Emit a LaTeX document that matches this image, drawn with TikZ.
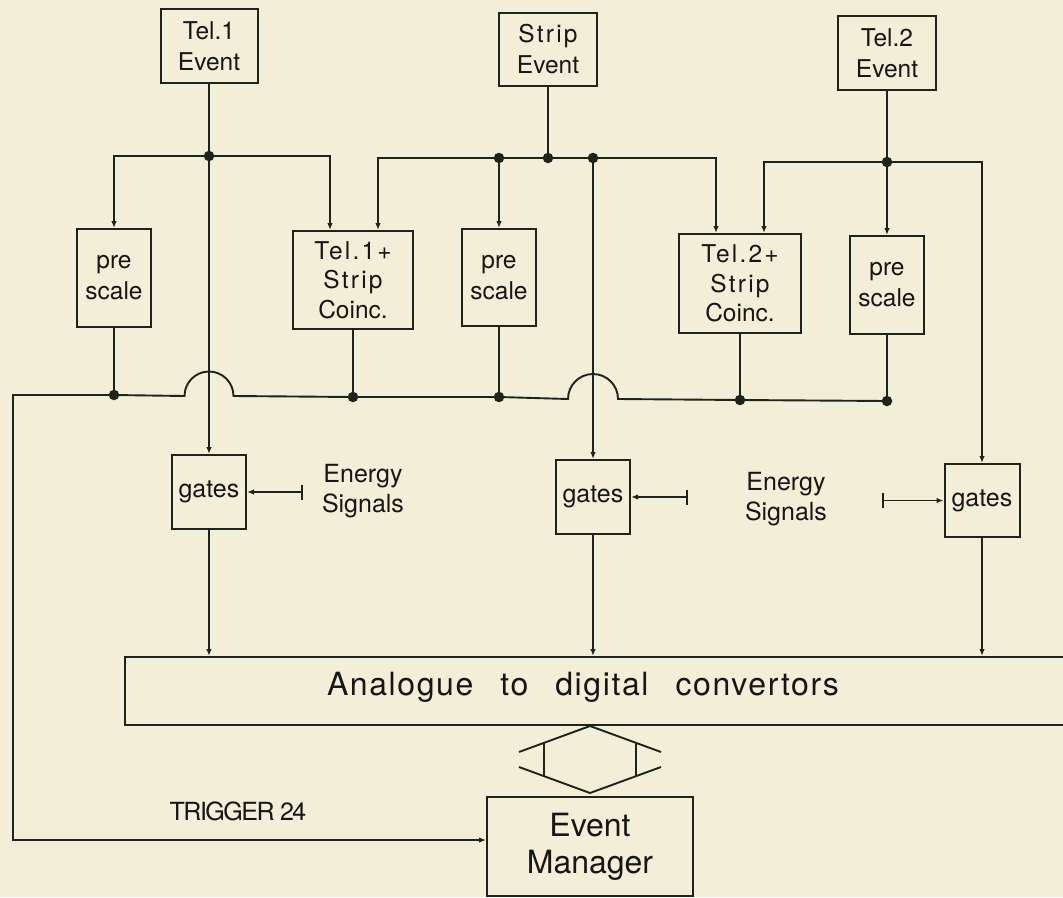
\documentclass[tikz,border=0pt]{standalone}
\usepackage{fontspec}
\setmainfont{TeX Gyre Heros}
\newfontfamily\lspfont[LetterSpace=9]{TeX Gyre Heros}
\newfontfamily\adcfont[LetterSpace=5]{TeX Gyre Heros}
\newfontfamily\trigfont[LetterSpace=-6]{TeX Gyre Heros}
\usetikzlibrary{arrows.meta,calc}
\definecolor{bg}{RGB}{242,238,216}
\definecolor{ink}{RGB}{28,36,28}
\definecolor{txt}{RGB}{22,22,22}
\begin{document}
\begin{tikzpicture}[x=1pt,y=-1pt,
  box/.style={draw=ink,line width=2pt,rectangle,inner sep=0pt,align=center,text=txt,font=\fontsize{24.5}{31}\selectfont},
  arr/.style={draw=ink,line width=1.9pt,-{Latex[length=7pt,width=5.5pt]}},
  wire/.style={draw=ink,line width=1.9pt},
  jdot/.style={circle,fill=ink,inner sep=0pt,minimum size=10.5pt},
  lbl/.style={align=center,text=txt,font=\fontsize{25}{30}\selectfont,inner sep=0pt}]
\useasboundingbox (0,0) rectangle (1063,897);
\fill[bg] (0,0) rectangle (1063,897);
\clip (0,0) rectangle (1063,897);

% top row
\node[box,minimum width=97pt,minimum height=74pt] (t1) at (209,46) {Tel.1\\Event};
\node[box,minimum width=98pt,minimum height=73pt] (st) at (548,49.5) {{\lspfont Strip}\\Event};
\node[box,minimum width=98pt,minimum height=74pt] (t2) at (887,53) {Tel.2\\Event};

% middle row
\node[box,minimum width=74pt,minimum height=98pt] (p1) at (114,278) {pre\\scale};
\node[box,font=\fontsize{24.5}{29.5}\selectfont,minimum width=120pt,minimum height=98pt] (c1) at (353,280) {{\lspfont Tel.1+}\\{\lspfont Strip}\\Coinc.};
\node[box,minimum width=74pt,minimum height=97pt] (p2) at (499,277.5) {pre\\scale};
\node[box,font=\fontsize{24.5}{29.5}\selectfont,minimum width=122pt,minimum height=99pt] (c2) at (740,283.5) {{\lspfont Tel.2+}\\{\lspfont Strip}\\Coinc.};
\node[box,minimum width=74pt,minimum height=98pt] (p3) at (887,285) {pre\\scale};

% gates
\node[box,font=\fontsize{25}{30}\selectfont,minimum width=74pt,minimum height=74pt] (g1) at (209,492) {gates};
\node[box,font=\fontsize{25}{30}\selectfont,minimum width=74pt,minimum height=74pt] (g2) at (593,497) {gates};
\node[box,font=\fontsize{25}{30}\selectfont,minimum width=75pt,minimum height=73pt] (g3) at (982,500.5) {gates};

\node[lbl] (en1) at (363,491) {Energy\\Signals};
\node[lbl] (en2) at (786,499) {Energy\\Signals};

% ADC and event manager
\node[box,minimum width=955pt,minimum height=68pt] (adc) at (602.5,691) {};
\node[anchor=base,inner sep=0pt,text=txt,font=\fontsize{32}{38}\selectfont\adcfont] (adct) at (583,695) {Analogue\hspace{27pt}to\hspace{27pt}digital\hspace{27pt}convertors};
\node[box,font=\fontsize{32}{37}\selectfont,minimum width=206pt,minimum height=99pt] (em) at (590,846.5) {Event\\Manager};
\node[anchor=base,inner sep=0pt,text=txt,font=\fontsize{25}{30}\selectfont\trigfont] (trig) at (238,820) {TRIGGER 24};

% junction coordinates
\coordinate (j1) at (209,156);
\coordinate (js) at (548,158);
\coordinate (jp2) at (499,158);
\coordinate (jg2) at (593,158);
\coordinate (jt2) at (887,162);
\coordinate (b1) at (114,395);
\coordinate (b2) at (353,397);
\coordinate (b3) at (499,397);
\coordinate (b4) at (740,400);
\coordinate (b5) at (887,401);
\coordinate (a1r) at (233.5,396);
\coordinate (a2r) at (618,399);
\coordinate (bl) at (13,395);
\coordinate (blb) at (13,840);
\coordinate (e1) at (303,492);
\coordinate (e2) at (688,497);
\coordinate (e3) at (882,500.5);

% Tel.1 feeds
\draw[arr] (t1.south) -- (g1.north);
\draw[arr] (j1) -| (p1.north);
\draw[arr] (j1) -| ([xshift=-23pt]c1.north);
% Strip feeds
\draw[wire] (st.south) -- (js);
\draw[arr] (js) -| ([xshift=25pt]c1.north);
\draw[arr] (js) -| ([xshift=-24pt]c2.north);
\draw[arr] (jp2) -- (p2.north);
\draw[arr] (jg2) -- (g2.north);
% Tel.2 feeds
\draw[wire] (t2.south) -- (jt2);
\draw[arr] (jt2) -- (p3.north);
\draw[arr] (jt2) -| ([xshift=24pt]c2.north);
\draw[arr] (jt2) -| (g3.north);

% drops to trigger bus
\draw[wire] (p1.south) -- (b1);
\draw[wire] (c1.south) -- (b2);
\draw[wire] (p2.south) -- (b3);
\draw[wire] (c2.south) -- (b4);
\draw[wire] (p3.south) -- (b5);

% trigger bus with jumps
\draw[arr] (b5) -- (b4) -- (a2r) arc[start angle=0,end angle=180,radius=25pt] -- (b3) -- (b2) -- (a1r) arc[start angle=0,end angle=180,radius=24.5pt] -- (b1) -- (bl) -- (blb) -- (em.west |- blb);

% energy signals
\draw[wire,{Bar[width=15pt]}-{Latex[length=7pt,width=5.5pt]}] (e1) -- (g1.east);
\draw[wire,{Bar[width=15pt]}-{Latex[length=7pt,width=5.5pt]}] (e2) -- (g2.east);
\draw[wire,{Bar[width=15pt]}-{Latex[length=7pt,width=5.5pt]}] (e3) -- (g3.west);

% gates to ADC
\draw[arr] (g1.south) -- (g1.south |- adc.north);
\draw[arr] (g2.south) -- (g2.south |- adc.north);
\draw[arr] (g3.south) -- (g3.south |- adc.north);

% double arrow ADC <-> Event Manager
\coordinate (dt) at (em.north |- adc.south);
\coordinate (db) at ($(em.north)+(0,-3)$);
\draw[wire] ($(dt)+(-71,26)$) -- (dt) -- ($(dt)+(71,26)$);
\draw[wire] ($(db)+(-71,-26)$) -- (db) -- ($(db)+(71,-26)$);
\draw[wire] ($(dt)+(-46,16.8)$) -- ($(db)+(-46,-16.8)$);
\draw[wire] ($(dt)+(46,16.8)$) -- ($(db)+(46,-16.8)$);

% dots
\foreach \c in {j1,js,jp2,jg2,jt2,b1,b2,b3,b4,b5} {\node[jdot] (d\c) at (\c) {};}
\end{tikzpicture}
\end{document}
